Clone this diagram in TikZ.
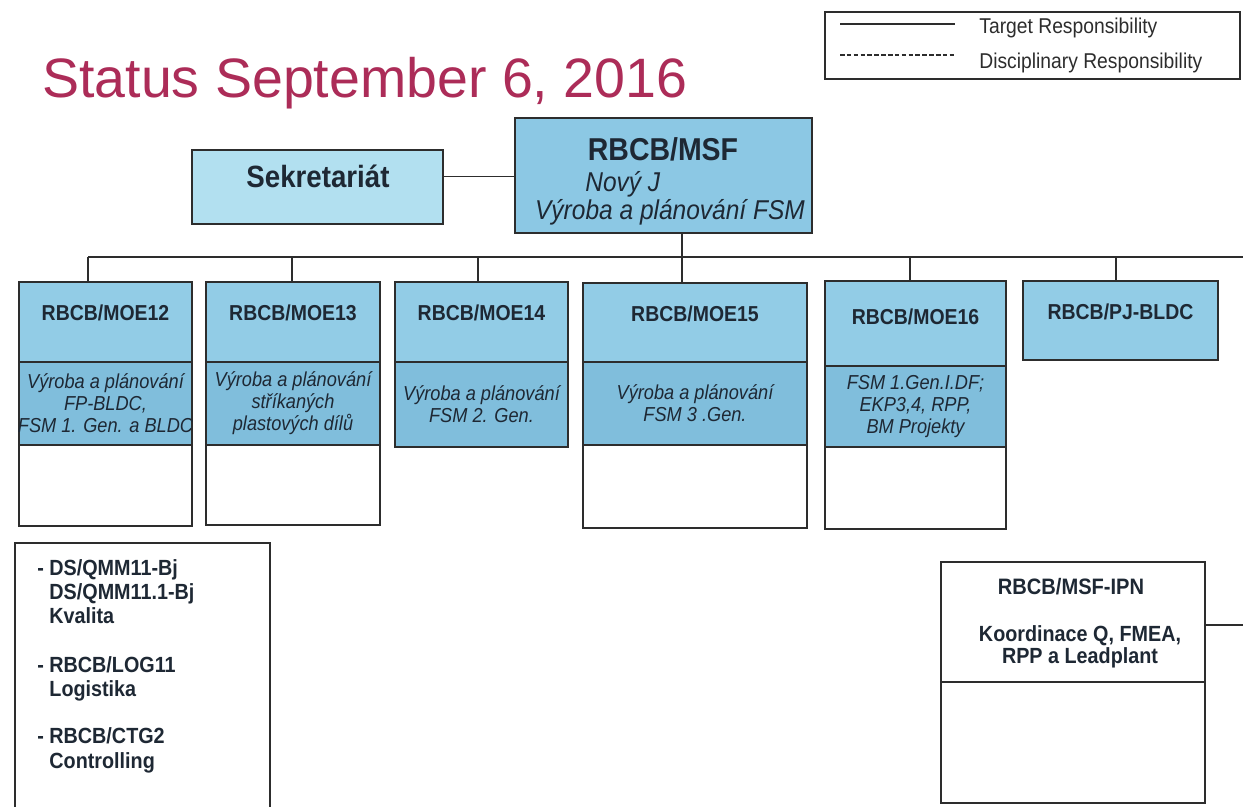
\documentclass[tikz,border=0pt]{standalone}
\usepackage{fontspec}
\setmainfont{Liberation Sans}
\newfontfamily\condfont{Liberation Sans}[FakeStretch=0.9]
\usetikzlibrary{positioning,fit}
\definecolor{titlered}{RGB}{172,44,88}
\definecolor{inkdark}{RGB}{30,40,52}
\definecolor{linegray}{RGB}{45,45,45}
\definecolor{hdrblue}{RGB}{146,204,230}
\definecolor{descblue}{RGB}{128,190,220}
\definecolor{sekblue}{RGB}{178,224,240}
\definecolor{msfblue}{RGB}{140,200,228}
\begin{document}
\begin{tikzpicture}[x=0.02cm,y=-0.02cm,
  box/.style={draw=linegray,line width=0.9pt,inner sep=0pt},
  hdr/.style={box,fill=hdrblue},
  desc/.style={box,fill=descblue},
  desctxt/.style={inner sep=0pt,text=inkdark,align=center,
    font=\condfont\itshape\fontsize{11.5}{12.5}\selectfont},
  blank/.style={box,fill=white},
  hdrtxt/.style={inner sep=0pt,text=inkdark,
    font=\condfont\bfseries\fontsize{12.3}{14}\selectfont},
  boldtxt/.style={inner sep=0pt,text=inkdark,
    font=\condfont\bfseries\fontsize{12.5}{13.8}\selectfont},
  legtxt/.style={inner sep=0pt,text=linegray,
    font=\condfont\fontsize{12.2}{14}\selectfont},
  wire/.style={draw=linegray,line width=1pt}]
\pgfmathsetmacro{\busy}{257}
\pgfmathsetmacro{\rowtop}{282}
\pgfmathsetmacro{\hdrbot}{362}
\pgfmathsetmacro{\descbot}{445}
\useasboundingbox[fill=white] (0,0) rectangle (1243,806);
  % title and legend
  \node[anchor=base west,inner sep=0pt,text=titlered,
    font=\fontsize{31.6}{36}\selectfont] (title) at (42,97) {Status September 6, 2016};
  \node[box,fit={(825,12) (1240,79)}] (legend) {};
  \coordinate (solidA) at (840,24);
  \coordinate (solidB) at (955,24);
  \coordinate (dashA) at (840,55);
  \coordinate (dashB) at (955,55);
  \draw[wire] (solidA) -- (solidB);
  \draw[wire,line width=0.8pt,dash pattern=on 2.6pt off 1.3pt] (dashA) -- (dashB);
  \node[legtxt,anchor=west] (legtarget) at (979,28) {Target Responsibility};
  \node[legtxt,anchor=west] (legdisc) at (979,63) {Disciplinary Responsibility};
  % head of department
  \node[box,fill=sekblue,fit={(192,150) (443,224)}] (sek) {};
  \node[text=inkdark,font=\condfont\bfseries\fontsize{17.5}{20}\selectfont] (sektxt) at (318,176) {Sekretariát};
  \node[box,fill=msfblue,fit={(515,118) (812,233)}] (msf) {};
  \node[text=inkdark,font=\condfont\bfseries\fontsize{18}{20}\selectfont] (msfname) at (663,149) {RBCB/MSF};
  \node[anchor=west,inner sep=0pt,text=inkdark,font=\condfont\itshape\fontsize{15.5}{18}\selectfont] (msfboss) at (585,184) {Nový J};
  \node[inner sep=0pt,text=inkdark,font=\condfont\itshape\fontsize{15.5}{18}\selectfont] (msfunit) at (670,212) {Výroba a plánování FSM};
  \coordinate (sekout) at ([yshift=6pt]sek.east);
  \draw[wire] (sekout) -- (sekout -| msf.west);
  % bus
  \coordinate (b12) at (88,\busy);
  \coordinate (b13) at (292,\busy);
  \coordinate (b14) at (478,\busy);
  \coordinate (b15) at (682,\busy);
  \coordinate (b16) at (910,\busy);
  \coordinate (bpj) at (1116,\busy);
  \coordinate (bend) at (1243,\busy);
  \draw[wire] (b12) -- (bend);
  \draw[wire] (msf.south -| b15) -- (b15);
  % departments
  \node[hdr,fit={(19,\rowtop) (192,\hdrbot)}] (h12) {};
  \node[hdrtxt,below=13.5pt of h12.north] (t12) {RBCB/MOE12};
  \node[desc,fit={(19,\hdrbot) (192,\descbot)}] (d12) {};
  \node[desctxt] (x12) at (d12.center) {Výroba a plánování\\FP-BLDC,\\FSM 1. Gen. a BLDC};
  \node[blank,fit={(19,\descbot) (192,526)}] (e12) {};
  \node[hdr,fit={(206,\rowtop) (380,\hdrbot)}] (h13) {};
  \node[hdrtxt,below=13.5pt of h13.north] (t13) {RBCB/MOE13};
  \node[desc,fit={(206,\hdrbot) (380,\descbot)}] (d13) {};
  \node[desctxt] (x13) at (d13.center) {Výroba a plánování\\stříkaných\\plastových dílů};
  \node[blank,fit={(206,\descbot) (380,525)}] (e13) {};
  \node[hdr,fit={(395,\rowtop) (568,\hdrbot)}] (h14) {};
  \node[hdrtxt,below=13.5pt of h14.north] (t14) {RBCB/MOE14};
  \node[desc,fit={(395,\hdrbot) (568,447)}] (d14) {};
  \node[desctxt] (x14) at (d14.center) {Výroba a plánování\\FSM 2. Gen.};
  \node[hdr,fit={(583,283) (807,\hdrbot)}] (h15) {};
  \node[hdrtxt,below=13.5pt of h15.north] (t15) {RBCB/MOE15};
  \node[desc,fit={(583,\hdrbot) (807,\descbot)}] (d15) {};
  \node[desctxt] (x15) at (d15.center) {Výroba a plánování\\FSM 3 .Gen.};
  \node[blank,fit={(583,\descbot) (807,528)}] (e15) {};
  \node[hdr,fit={(825,281) (1006,366)}] (h16) {};
  \node[hdrtxt,below=16pt of h16.north] (t16) {RBCB/MOE16};
  \node[desc,fit={(825,366) (1006,447)}] (d16) {};
  \node[desctxt] (x16) at (d16.center) {FSM 1.Gen.I.DF;\\EKP3,4, RPP,\\BM Projekty};
  \node[blank,fit={(825,447) (1006,529)}] (e16) {};
  \node[hdr,fit={(1023,281) (1218,360)}] (hpj) {};
  \node[hdrtxt,below=13.5pt of hpj.north] (tpj) {RBCB/PJ-BLDC};
  \draw[wire] (b12) -- (b12 |- h12.north);
  \draw[wire] (b13) -- (b13 |- h13.north);
  \draw[wire] (b14) -- (b14 |- h14.north);
  \draw[wire] (b15) -- (b15 |- h15.north);
  \draw[wire] (b16) -- (b16 |- h16.north);
  \draw[wire] (bpj) -- (bpj |- hpj.north);
  % staff functions
  \node[box,fit={(15,543) (270,815)}] (staff) {};
  \node[boldtxt,anchor=north west,align=left] (stafftxt) at (37,559)
    {- DS/QMM11-Bj\\\hphantom{- }DS/QMM11.1-Bj\\\hphantom{- }Kvalita\\[14pt]
     - RBCB/LOG11\\\hphantom{- }Logistika\\[13pt]
     - RBCB/CTG2\\\hphantom{- }Controlling};
  \node[box,fill=white,fit={(941,562) (1205,682)}] (ipn) {};
  \node[blank,fit={(941,682) (1205,803)}] (ipnblank) {};
  \node[boldtxt,font=\condfont\bfseries\fontsize{12.7}{14}\selectfont] (ipnname) at (1071,587) {RBCB/MSF-IPN};
  \node[boldtxt,align=center,font=\condfont\bfseries\fontsize{12.5}{12.3}\selectfont] (ipntask) at (1080,647) {Koordinace Q, FMEA,\\RPP a Leadplant};
  \coordinate (ipnout) at (1243,625);
  \draw[wire] (ipnout -| ipn.east) -- (ipnout);
\end{tikzpicture}
\end{document}
